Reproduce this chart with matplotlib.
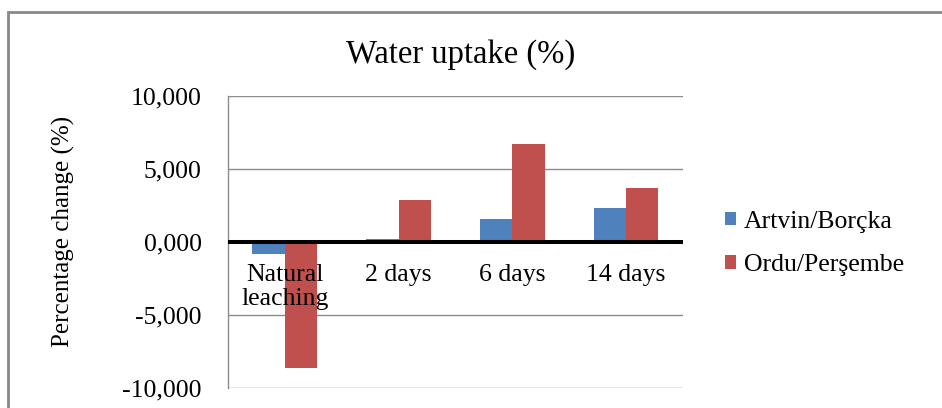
import numpy as np
import matplotlib.pyplot as plt
from matplotlib.patches import Rectangle

plt.rcParams['font.family'] = ['Liberation Serif', 'DejaVu Serif']

categories = ['Natural\nleaching', '2 days', '6 days', '14 days']
series_names = ['Artvin/Borçka', 'Ordu/Perşembe']
artvin = [-0.82, 0.22, 1.58, 2.35]
ordu = [-8.63, 2.90, 6.73, 3.67]
yticks = [-10, -5, 0, 5, 10]

colors = ['#4F81BD', '#C0504D']
fs = 18.5

fig = plt.figure(figsize=(9.42, 4.08), dpi=100)
ax = fig.add_axes([0.242, 0.0483, 0.483, 0.7165])

x = np.arange(len(categories))
w = 0.285
ax.bar(x - w / 2, artvin, w, color=colors[0], label=series_names[0], zorder=2)
ax.bar(x + w / 2, ordu, w, color=colors[1], label=series_names[1], zorder=2)

ax.set_xlim(-0.5, len(categories) - 0.5)
ax.set_ylim(-10, 10)
ax.set_yticks(yticks)
ax.set_yticklabels([('%.3f' % v).replace('.', ',') for v in yticks], fontsize=fs)
ax.tick_params(axis='y', length=0, pad=19)
ax.set_xticks([])
for s in ['top', 'right', 'bottom']:
    ax.spines[s].set_visible(False)
ax.spines['left'].set_color('#8c8c8c')
ax.spines['left'].set_linewidth(1)
ax.yaxis.grid(True, color='#8c8c8c', linewidth=1, zorder=0)
ax.set_axisbelow(True)
ax.axhline(0, color='black', linewidth=2.9, zorder=3)

# category labels sit just under the zero line, over the bars
for xi, lab in zip(x, categories):
    ax.text(xi, -1.5, lab, ha='center', va='top', fontsize=fs,
            linespacing=1.12, zorder=4)

fig.text(63 / 942, 1 - 231.5 / 408, 'Percentage change (%)', rotation=90,
         ha='center', va='center', fontsize=18)
fig.text(0.489, 0.865, 'Water uptake (%)', ha='center', va='center', fontsize=23.5)

leg = fig.legend(loc='center left', bbox_to_anchor=(0.745, 0.403), frameon=False,
                 fontsize=fs, handlelength=0.45, handleheight=0.45,
                 handletextpad=0.3, labelspacing=0.85)

fig.patches.append(Rectangle((8 / 942, -0.1), 1.2, 1.1 - 12 / 408, transform=fig.transFigure,
                             fill=False, edgecolor='#888888', linewidth=2))

fig.savefig('out.png', dpi=100)
